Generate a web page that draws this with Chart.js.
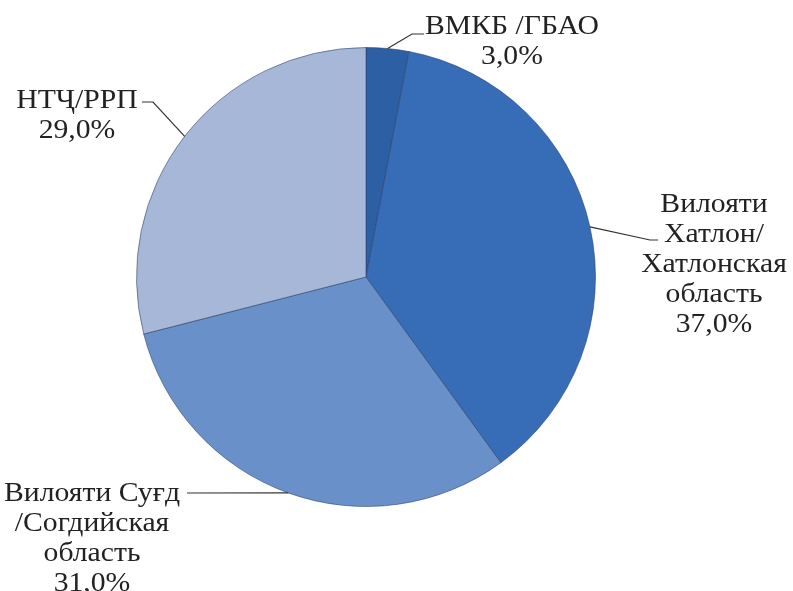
<!DOCTYPE html>
<html>
<head>
<meta charset="utf-8">
<script src="https://cdn.jsdelivr.net/npm/chart.js@4.4.0/dist/chart.umd.min.js"></script>
<style>
  html, body { margin: 0; padding: 0; background: #fff; }
  #wrap { width: 793px; height: 591px; position: relative; }
</style>
</head>
<body>
<div id="wrap"><canvas id="pie"></canvas></div>
<script>
// data
const regions = [
    ["ВМКБ /ГБАО"],
    ["Вилояти", "Хатлон/", "Хатлонская", "область"],
    ["Вилояти Суғд", "/Согдийская", "область"],
    ["НТҶ/РРП"]
];
const shares = [3.0, 37.0, 31.0, 29.0];
const colors = ["#2d5fa5", "#376db6", "#6a90ca", "#a6b7d7"];

// where each label sits: text centre x, first line y, leader elbow, leader end
const labelLayout = [
    { x: 512, y: 27, elbow: [412, 34], end: [424, 34] },
    { x: 714, y: 205, elbow: [650, 240], end: [658, 240] },
    { x: 92, y: 494, elbow: [187, 493], end: [187, 493] },
    { x: 77, y: 101, elbow: [153, 102], end: [142, 102] }
];
const lineGap = 30;
const stretch = 1.1;

function fmt(v) {
    return v.toFixed(1).replace(".", ",") + "%";
}

const labelPlugin = {
    id: "labels",
    afterDraw(chart) {
        let ctx = chart.ctx;
        let arcs = chart.getDatasetMeta(0).data;
        ctx.save();
        ctx.strokeStyle = "#333";
        ctx.lineWidth = 1.2;
        arcs.forEach((arc, i) => {
            let p = arc.getProps(["x", "y", "startAngle", "endAngle", "outerRadius"], true);
            let mid = (p.startAngle + p.endAngle) / 2;
            let ax = p.x + Math.cos(mid) * p.outerRadius;
            let ay = p.y + Math.sin(mid) * p.outerRadius;
            let l = labelLayout[i];
            ctx.beginPath();
            ctx.moveTo(ax, ay);
            ctx.lineTo(l.elbow[0], l.elbow[1]);
            ctx.lineTo(l.end[0], l.end[1]);
            ctx.stroke();
            let lines = regions[i].concat([fmt(shares[i])]);
            ctx.save();
            ctx.translate(l.x, 0);
            ctx.scale(stretch, 1);
            ctx.font = "27px 'Liberation Serif', 'DejaVu Serif', serif";
            ctx.fillStyle = "#222";
            ctx.textAlign = "center";
            ctx.textBaseline = "middle";
            lines.forEach((t, k) => {
                ctx.fillText(t, 0, l.y + k * lineGap);
            });
            ctx.restore();
        });
        ctx.restore();
    }
};

new Chart(document.getElementById("pie"), {
    type: "pie",
    data: {
        labels: regions.map(r => r.join(" ")),
        datasets: [{
            data: shares,
            backgroundColor: colors,
            borderColor: "rgba(40,60,100,0.55)",
            borderWidth: 1
        }]
    },
    options: {
        responsive: true,
        maintainAspectRatio: false,
        animation: false,
        layout: {
            padding: { left: 136, right: 197, top: 47, bottom: 84 }
        },
        plugins: {
            legend: { display: false },
            tooltip: { enabled: false }
        }
    },
    plugins: [labelPlugin]
});
</script>
</body>
</html>
